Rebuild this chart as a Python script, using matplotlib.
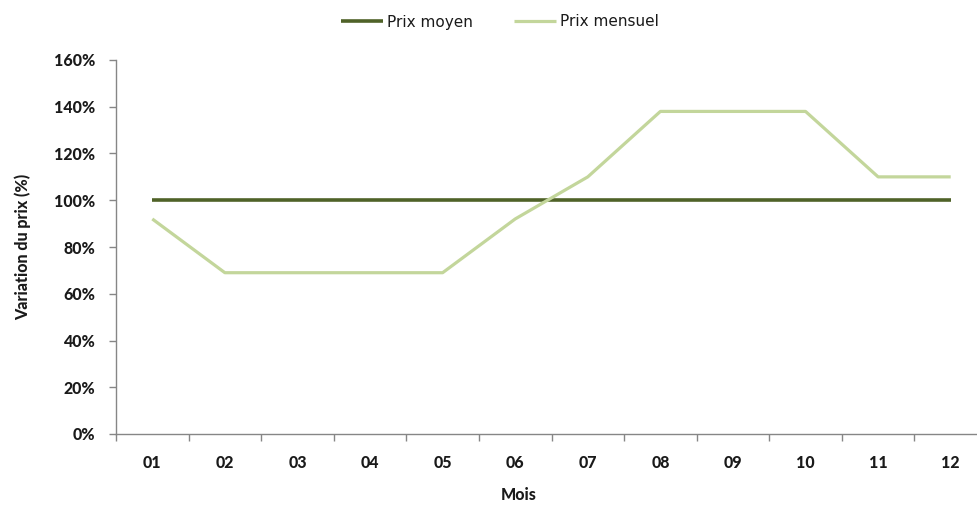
import matplotlib
matplotlib.use("Agg")
import matplotlib.pyplot as plt
from matplotlib.ticker import FixedLocator, PercentFormatter

months = ["01", "02", "03", "04", "05", "06", "07", "08", "09", "10", "11", "12"]
prix_moyen = [100, 100, 100, 100, 100, 100, 100, 100, 100, 100, 100, 100]
prix_mensuel = [92, 69, 69, 69, 69, 92, 110, 138, 138, 138, 110, 110]

plt.rcParams['font.family'] = ['Lato', 'DejaVu Sans']

fig = plt.figure(figsize=(9.77, 5.07), dpi=100)
ax = fig.add_axes([116 / 977, 73 / 507, 871 / 977, 374 / 507])

x = list(range(len(months)))
l1, = ax.plot(x, prix_moyen, color="#4F6228", lw=2.6, label="Prix moyen", solid_capstyle="butt")
l2, = ax.plot(x, prix_mensuel, color="#C3D69B", lw=2.3, label="Prix mensuel", solid_capstyle="butt")

ax.set_xlim(-0.5, len(months) - 0.5)
ax.set_ylim(0, 160)
ax.set_yticks(range(0, 161, 20))
ax.yaxis.set_major_formatter(PercentFormatter(decimals=0))

ax.set_xticks(x)
ax.set_xticklabels(months)
ax.xaxis.set_minor_locator(FixedLocator([i - 0.5 for i in range(len(months) + 1)]))
ax.tick_params(axis="x", which="major", length=0, pad=15)
ax.tick_params(axis="x", which="minor", length=5, color="#868686", width=1)
ax.tick_params(axis="y", length=5, color="#868686", width=1, pad=10)

for lab in ax.get_xticklabels() + ax.get_yticklabels():
    lab.set_fontweight(900)
    lab.set_fontsize(11.5)
    lab.set_color("#1a1a1a")

for s in ("top", "right"):
    ax.spines[s].set_visible(False)
for s in ("left", "bottom"):
    ax.spines[s].set_color("#868686")
    ax.spines[s].set_linewidth(1)

fig.text(23 / 977, 1 - 247 / 507, "Variation du prix (%)", rotation=90,
         ha="center", va="center", fontsize=11.5, fontweight=900, color="#1a1a1a")
fig.text(519 / 977, 1 - 495 / 507, "Mois", ha="center", va="center",
         fontsize=11.5, fontweight=900, color="#1a1a1a")

leg = fig.legend(handles=[l1, l2], loc="center", bbox_to_anchor=(500 / 977, 1 - 22 / 507),
                 ncol=2, frameon=False, handlelength=2.75, handletextpad=0.26,
                 columnspacing=2.7, prop={"family": "DejaVu Sans", "size": 11})
for t in leg.get_texts():
    t.set_color("#1a1a1a")

fig.savefig("out.png", dpi=100)
